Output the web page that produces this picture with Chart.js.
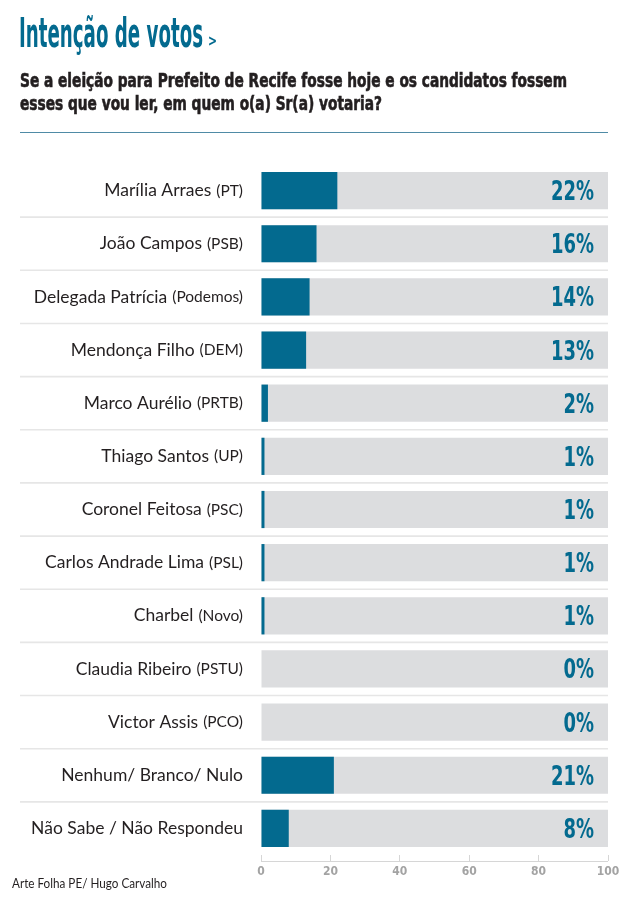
<!DOCTYPE html>
<html>
<head>
<meta charset="utf-8">
<script src="https://cdn.jsdelivr.net/npm/chart.js@4.4.1/dist/chart.umd.min.js"></script>
<style>
	html, body { margin: 0; padding: 0; background: #fff; }
	#root { position: relative; width: 620px; height: 906px; }
</style>
</head>
<body>
<div id="root"><canvas id="main-chart" width="620" height="906"></canvas></div>
<script>
// data
const candidates = ['Marília Arraes', 'João Campos', 'Delegada Patrícia', 'Mendonça Filho', 'Marco Aurélio',
	'Thiago Santos', 'Coronel Feitosa', 'Carlos Andrade Lima', 'Charbel', 'Claudia Ribeiro', 'Victor Assis',
	'Nenhum/ Branco/ Nulo', 'Não Sabe / Não Respondeu'];
const parties = ['PT', 'PSB', 'Podemos', 'DEM', 'PRTB', 'UP', 'PSC', 'PSL', 'Novo', 'PSTU', 'PCO', '', ''];
const votes = [22, 16, 14, 13, 2, 1, 1, 1, 1, 0, 0, 21, 8];
const fullScale = candidates.map(() => 100);
const xTicks = [0, 20, 40, 60, 80, 100];

const title = 'Intenção de votos';
const subtitle = ['Se a eleição para Prefeito de Recife fosse hoje e os candidatos fossem',
	'esses que vou ler, em quem o(a) Sr(a) votaria?'];
const credit = 'Arte Folha PE/ Hugo Carvalho';

const BLUE = '#036a8f';
const GREY = '#dcdddf';
const CONDENSED = '"Liberation Sans Narrow", "DejaVu Sans Condensed", sans-serif';
const HUMANIST = 'Lato, "Open Sans", sans-serif';

// squeeze a string horizontally so it fits a given width
function squeezedText(ctx, text, x, y, width) {
	var w = ctx.measureText(text).width;
	ctx.save();
	ctx.translate(x, y);
	ctx.scale(width / w, 1);
	ctx.fillText(text, 0, 0);
	ctx.restore();
}

const decorations = {
	id: 'decorations',
	beforeDraw(chart) {
		var ctx = chart.ctx;
		var area = chart.chartArea;
		var y = chart.scales.y;
		ctx.save();
		ctx.fillStyle = '#fff';
		ctx.fillRect(0, 0, chart.width, chart.height);

		// heading
		ctx.fillStyle = BLUE;
		ctx.textAlign = 'left';
		ctx.textBaseline = 'alphabetic';
		ctx.font = 'bold 40px ' + CONDENSED;
		squeezedText(ctx, title, 19, 47, 184);
		ctx.font = 'bold 15px ' + CONDENSED;
		squeezedText(ctx, '>', 208, 46, 9);

		ctx.fillStyle = '#231f20';
		ctx.font = 'bold 19px ' + CONDENSED;
		var sx = 547 / ctx.measureText(subtitle[0]).width;
		subtitle.forEach(function (line, i) {
			ctx.save();
			ctx.translate(20, 87 + i * 23);
			ctx.scale(sx, 1);
			ctx.fillText(line, 0, 0);
			ctx.lineWidth = 0.6;
			ctx.strokeStyle = '#231f20';
			ctx.strokeText(line, 0, 0);
			ctx.restore();
		});

		ctx.strokeStyle = '#4f8ba6';
		ctx.lineWidth = 1.2;
		ctx.beginPath();
		ctx.moveTo(20, 132.5);
		ctx.lineTo(area.right, 132.5);
		ctx.stroke();

		// row separators
		ctx.strokeStyle = '#e6e6e6';
		ctx.lineWidth = 1.6;
		for (var i = 0; i < candidates.length - 1; i++) {
			var sy = (y.getPixelForValue(i) + y.getPixelForValue(i + 1)) / 2;
			ctx.beginPath();
			ctx.moveTo(20, sy);
			ctx.lineTo(area.right, sy);
			ctx.stroke();
		}

		// axis base line
		ctx.strokeStyle = '#d6d6d6';
		ctx.lineWidth = 1;
		ctx.beginPath();
		ctx.moveTo(area.left, area.bottom + 6.5);
		ctx.lineTo(area.right, area.bottom + 6.5);
		ctx.stroke();

		// credit
		ctx.fillStyle = '#231f20';
		ctx.font = '13px ' + HUMANIST;
		squeezedText(ctx, credit, 12, 888, 155);
		ctx.restore();
	},
	afterDatasetsDraw(chart) {
		var ctx = chart.ctx;
		var x = chart.scales.x;
		var y = chart.scales.y;
		ctx.save();
		ctx.textBaseline = 'middle';
		ctx.textAlign = 'right';

		// category labels, name plus smaller party tag
		candidates.forEach(function (name, i) {
			var cy = y.getPixelForValue(i);
			var right = x.left - 18;
			ctx.fillStyle = '#231f20';
			if (parties[i]) {
				ctx.font = '15.5px ' + HUMANIST;
				var tag = '(' + parties[i] + ')';
				ctx.fillText(tag, right, cy);
				right -= ctx.measureText(tag).width + 5;
			}
			ctx.font = '17.5px ' + HUMANIST;
			ctx.fillText(name, right, cy);
		});

		// value labels
		ctx.fillStyle = BLUE;
		ctx.textBaseline = 'alphabetic';
		ctx.textAlign = 'left';
		ctx.font = 'bold 26px ' + CONDENSED;
		var k = 43 / ctx.measureText('22%').width;
		votes.forEach(function (v, i) {
			var label = v + '%';
			var w = ctx.measureText(label).width * k;
			ctx.save();
			ctx.translate(x.right - 14 - w, y.getPixelForValue(i) + 9.5);
			ctx.scale(k, 1);
			ctx.fillText(label, 0, 0);
			ctx.restore();
		});
		ctx.restore();
	}
};

function make() {
	var ctx = document.getElementById('main-chart');
	return new Chart(ctx, {
		type: 'bar',
		data: {
			labels: candidates,
			datasets: [
				{ data: votes, backgroundColor: BLUE, grouped: false, order: 0,
					barPercentage: 0.7, categoryPercentage: 1 },
				{ data: fullScale, backgroundColor: GREY, grouped: false, order: 1,
					barPercentage: 0.7, categoryPercentage: 1 }
			]
		},
		options: {
			indexAxis: 'y',
			responsive: false,
			animation: false,
			layout: { padding: { top: 164, right: 12, left: 0, bottom: 0 } },
			plugins: { legend: { display: false }, tooltip: { enabled: false }, title: { display: false } },
			scales: {
				y: {
					ticks: { display: false },
					grid: { display: false },
					border: { display: false },
					afterFit(scale) { scale.width = 261; }
				},
				x: {
					min: 0,
					max: 100,
					afterBuildTicks(scale) { scale.ticks = xTicks.map(v => ({ value: v })); },
					ticks: {
						color: '#a3a3a3',
						padding: 4,
						font: { family: CONDENSED, size: 12, weight: 'bold' }
					},
					grid: { drawOnChartArea: false, drawTicks: true, tickLength: 6, color: '#d6d6d6' },
					border: { display: false },
					afterFit(scale) {
						scale.height = 51;
						scale.paddingLeft = 0;
						scale.paddingRight = 0;
					}
				}
			}
		},
		plugins: [decorations]
	});
}

make();
</script>
</body>
</html>
